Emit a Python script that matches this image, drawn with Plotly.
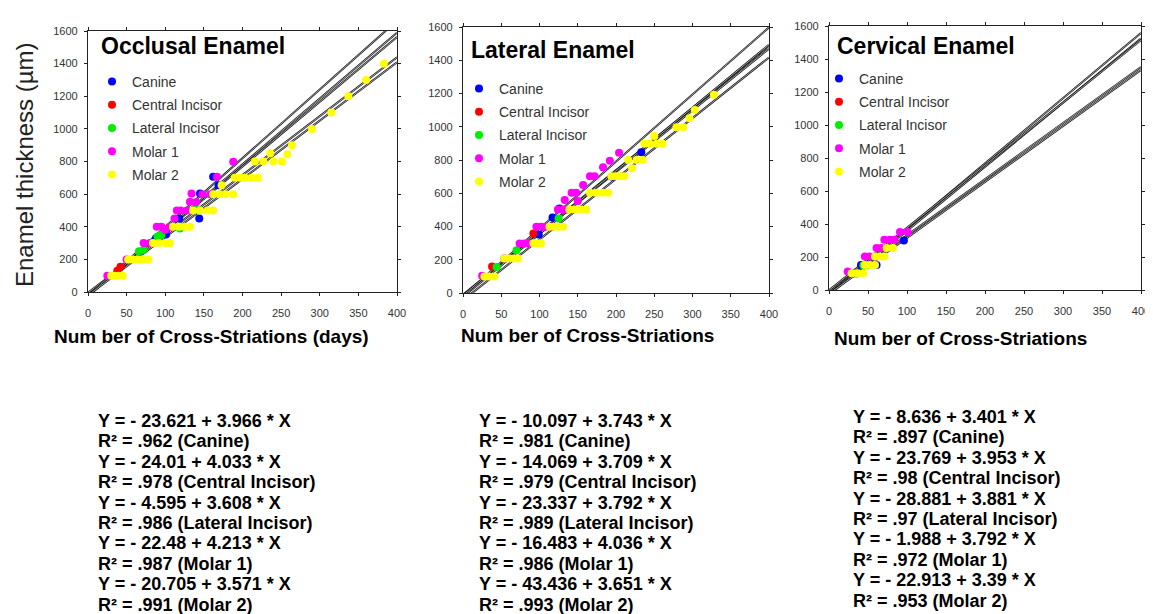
import plotly.graph_objects as go

W, H = 1153, 614
OFF = 8  # page body margin offset of the figure
FW, FH = W - OFF, H - OFF
FONT = "Arial, 'Liberation Sans', sans-serif"

series_names = ["Canine", "Central Incisor", "Lateral Incisor", "Molar 1", "Molar 2"]
series_colors = ["#0000ff", "#ff0000", "#00ee00", "#ff00ff", "#ffff00"]

x_ticks = [0, 50, 100, 150, 200, 250, 300, 350, 400]
y_ticks = [0, 200, 400, 600, 800, 1000, 1200, 1400, 1600]

panel_titles = ["Occlusal Enamel", "Lateral Enamel", "Cervical Enamel"]
x_titles = ["Num ber of Cross-Striations (days)", "Num ber of Cross-Striations", "Num ber of Cross-Striations"]
y_title = "Enamel thickness (µm)"

# ---------- Occlusal ----------
occ_canine_x = [88, 101, 118, 144, 145, 162, 169]
occ_canine_y = [330, 353, 450, 450, 604, 706, 655]
occ_central_x = [38, 42]
occ_central_y = [130, 155]
occ_lateral_x = [66, 72, 90, 95, 119, 140, 144]
occ_lateral_y = [250, 257, 340, 349, 390, 502, 500]
occ_molar1_x = [25, 50, 72, 80, 89, 95, 100, 106, 112, 115, 120, 128, 132, 134, 140, 148, 158, 167, 188]
occ_molar1_y = [100, 200, 300, 300, 400, 400, 380, 400, 450, 500, 500, 500, 553, 604, 550, 600, 600, 706, 798]
occ_molar2_x = [30, 35, 40, 45, 52, 58, 64, 70, 78, 84, 92, 100, 106, 110, 118, 125, 132, 136, 145, 155, 162,
                162, 170, 178, 188, 173, 190, 197, 203, 212, 220, 216, 227, 240, 251, 236, 258, 264, 290, 315, 337, 360, 383]
occ_molar2_y = [100, 100, 100, 100, 200, 200, 200, 200, 200, 300, 300, 300, 300, 400, 400, 400, 400, 500, 500, 500, 500,
                600, 600, 600, 600, 655, 700, 700, 700, 700, 700, 800, 800, 800, 800, 850, 845, 900, 1000, 1100, 1200, 1300, 1400]
occ_intercept = [-23.621, -24.01, -4.595, -22.48, -20.705]
occ_slope = [3.966, 4.033, 3.608, 4.213, 3.571]
occ_r2 = [0.962, 0.978, 0.986, 0.987, 0.991]

# ---------- Lateral ----------
lat_canine_x = [99, 117, 126, 195, 233]
lat_canine_y = [352, 454, 508, 700, 846]
lat_central_x = [38, 92]
lat_central_y = [160, 358]
lat_lateral_x = [44, 70, 125]
lat_lateral_y = [157, 257, 448]
lat_molar1_x = [25, 54, 74, 80, 85, 96, 102, 108, 115, 124, 130, 135, 133, 142, 148, 150, 157, 166, 172, 183, 192, 204]
lat_molar1_y = [104, 207, 297, 297, 297, 398, 398, 398, 398, 502, 502, 502, 560, 603, 603, 553, 650, 703, 703, 756, 796, 844]
lat_molar2_x = [28, 34, 41, 54, 60, 66, 72, 92, 97, 102, 113, 119, 125, 131, 139, 146, 154, 161, 166, 174, 182, 190,
                194, 200, 206, 211, 221, 216, 227, 235, 237, 244, 250, 253, 261, 279, 288, 296, 303, 328]
lat_molar2_y = [100, 100, 100, 207, 207, 207, 207, 300, 300, 300, 398, 398, 398, 398, 502, 502, 502, 502, 603, 603, 603, 603,
                703, 703, 703, 703, 750, 800, 800, 800, 897, 897, 945, 897, 897, 997, 997, 1051, 1101, 1192]
lat_intercept = [-10.097, -14.069, -23.337, -16.483, -43.436]
lat_slope = [3.743, 3.709, 3.792, 4.036, 3.651]
lat_r2 = [0.981, 0.979, 0.989, 0.986, 0.993]

# ---------- Cervical ----------
cer_canine_x = [41, 61, 96]
cer_canine_y = [152, 152, 300]
cer_central_x = [35]
cer_central_y = [100]
cer_lateral_x = [44, 50]
cer_lateral_y = [150, 150]
cer_molar1_x = [24, 30, 46, 52, 59, 61, 67, 74, 71, 78, 84, 91, 101]
cer_molar1_y = [112, 100, 203, 203, 203, 254, 254, 254, 305, 305, 305, 351, 351]
cer_molar2_x = [29, 36, 44, 46, 52, 59, 59, 65, 71, 74, 82]
cer_molar2_y = [101, 101, 101, 152, 152, 152, 203, 203, 203, 254, 254]
cer_intercept = [-8.636, -23.769, -28.881, -1.988, -22.913]
cer_slope = [3.401, 3.953, 3.881, 3.792, 3.39]
cer_r2 = [0.897, 0.98, 0.97, 0.972, 0.953]

panels = [
    dict(xs=[occ_canine_x, occ_central_x, occ_lateral_x, occ_molar1_x, occ_molar2_x],
         ys=[occ_canine_y, occ_central_y, occ_lateral_y, occ_molar1_y, occ_molar2_y],
         a=occ_intercept, b=occ_slope, r2=occ_r2),
    dict(xs=[lat_canine_x, lat_central_x, lat_lateral_x, lat_molar1_x, lat_molar2_x],
         ys=[lat_canine_y, lat_central_y, lat_lateral_y, lat_molar1_y, lat_molar2_y],
         a=lat_intercept, b=lat_slope, r2=lat_r2),
    dict(xs=[cer_canine_x, cer_central_x, cer_lateral_x, cer_molar1_x, cer_molar2_x],
         ys=[cer_canine_y, cer_central_y, cer_lateral_y, cer_molar1_y, cer_molar2_y],
         a=cer_intercept, b=cer_slope, r2=cer_r2),
]

# pixel layout (left, right, top, bottom) of plot areas, in window pixels
boxes = [(88, 397, 31, 292), (463, 769, 27, 293), (829, 1141, 26, 290)]
legend_pos = [(92, 66), (459, 73), (819, 63)]
title_pos = [(99, 46), (469, 50), (835, 46)]
xtitle_pos = [(211, 336), (587, 335), (960, 338)]
eq_pos = [(96, 421), (477, 421), (851, 417)]
eq_step = 20.4

def px(x):
    return (x - OFF) / FW

def py(y):
    return 1 - (y - OFF) / FH

fig = go.Figure()
annotations = []

for i, p in enumerate(panels):
    n = "" if i == 0 else str(i + 1)
    xa, ya = "x" + n, "y" + n
    leg = "legend" + n
    # regression lines
    for k in range(5):
        xl = [x_ticks[0], x_ticks[-1]]
        yl = [p["a"][k] + p["b"][k] * v for v in xl]
        fig.add_trace(go.Scatter(x=xl, y=yl, mode="lines", xaxis=xa, yaxis=ya,
                                 line=dict(color="#111111", width=2.0), showlegend=False, hoverinfo="skip"))
        fig.add_trace(go.Scatter(x=xl, y=yl, mode="lines", xaxis=xa, yaxis=ya,
                                 line=dict(color="#ffffff", width=0.6), showlegend=False, hoverinfo="skip"))
    # scatter points
    for k in range(5):
        fig.add_trace(go.Scatter(x=p["xs"][k], y=p["ys"][k], mode="markers", xaxis=xa, yaxis=ya,
                                 name=series_names[k], legend=leg, legendgroup=f"g{i}{k}",
                                 marker=dict(color=series_colors[k], size=8, line=dict(width=0))))
    l, r, t, b = boxes[i]
    fig.update_layout(**{
        "xaxis" + n: dict(domain=[px(l), px(r)], anchor=ya, range=[0, 400], tickvals=x_ticks,
                          showgrid=False, zeroline=False, showline=True, mirror="ticks",
                          linecolor="#222", linewidth=1.2, ticks="outside", ticklen=3, tickcolor="#222",
                          tickfont=dict(family=FONT, size=11, color="#333"), ticklabelstandoff=8,
                          automargin=False),
        "yaxis" + n: dict(domain=[py(b), py(t)], anchor=xa, range=[0, 1600], tickvals=y_ticks,
                          showgrid=False, zeroline=False, showline=True, mirror="ticks",
                          linecolor="#222", linewidth=1.2, ticks="outside", ticklen=3, tickcolor="#222",
                          tickfont=dict(family=FONT, size=11, color="#333"), ticklabelstandoff=4,
                          automargin=False),
        leg: dict(x=px(legend_pos[i][0]), y=py(legend_pos[i][1]), xanchor="left", yanchor="top",
                  bgcolor="rgba(0,0,0,0)", font=dict(family=FONT, size=14, color="#333"),
                  traceorder="grouped", tracegroupgap=2, itemsizing="trace"),
    })
    tx, ty = title_pos[i]
    annotations.append(dict(x=px(tx), y=py(ty), xref="paper", yref="paper", xanchor="left", yanchor="middle",
                            text="<b>" + panel_titles[i] + "</b>", showarrow=False,
                            font=dict(family=FONT, size=23, color="#000")))
    xx, xy = xtitle_pos[i]
    annotations.append(dict(x=px(xx), y=py(xy), xref="paper", yref="paper", xanchor="center", yanchor="middle",
                            text="<b>" + x_titles[i] + "</b>", showarrow=False,
                            font=dict(family=FONT, size=19, color="#000")))
    ex, ey = eq_pos[i]
    lines = []
    for k in range(5):
        a, bb, r2 = p["a"][k], p["b"][k], p["r2"][k]
        sign = "-" if a < 0 else "+"
        lines.append(f"Y = {sign} {abs(a):g} + {bb:g} * X")
        lines.append(f"R² = {str(r2)[1:]} ({series_names[k]})")
    for j, s in enumerate(lines):
        annotations.append(dict(x=px(ex), y=py(ey + j * eq_step), xref="paper", yref="paper",
                                xanchor="left", yanchor="middle", text="<b>" + s + "</b>", showarrow=False,
                                font=dict(family=FONT, size=18, color="#000")))

annotations.append(dict(x=px(24), y=py(165), xref="paper", yref="paper", xanchor="center", yanchor="middle",
                        text=y_title, textangle=-90, showarrow=False,
                        font=dict(family=FONT, size=24, color="#222")))

fig.update_layout(width=FW, height=FH, margin=dict(l=0, r=0, t=0, b=0, autoexpand=False),
                  paper_bgcolor="white", plot_bgcolor="white", annotations=annotations,
                  font=dict(family=FONT))

fig.write_html("out.html")
